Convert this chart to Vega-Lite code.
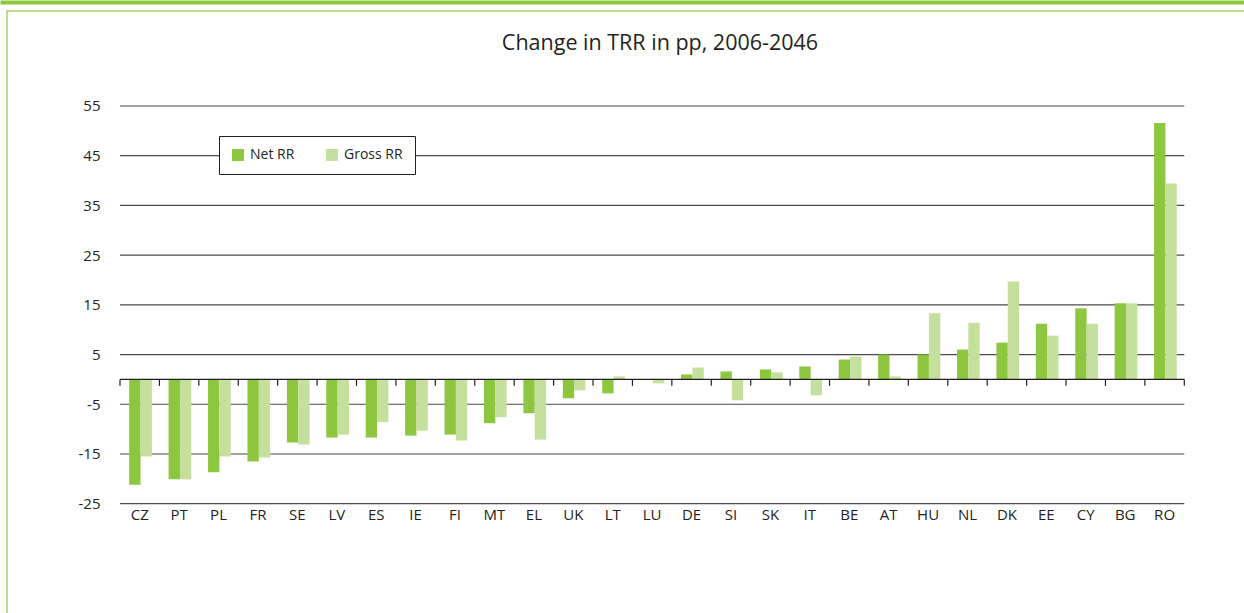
{
  "$schema": "https://vega.github.io/schema/vega-lite/v6.json",
  "width": 1240,
  "height": 620,
  "autosize": {"type": "none"},
  "padding": {"left": 7, "top": 11, "right": 0, "bottom": 0},
  "background": "white",
  "config": {
    "font": "Open Sans",
    "view": {"stroke": "#a3d36c", "strokeWidth": 1.5},
    "axis": {"labelFont": "Open Sans", "labelColor": "#231f20"}
  },
  "title": {
    "text": "Change in TRR in pp, 2006-2046",
    "font": "Open Sans",
    "fontSize": 21.5,
    "fontWeight": "normal",
    "color": "#231f20",
    "anchor": "middle",
    "frame": "group",
    "dx": 33,
    "offset": -52
  },
  "datasets": {
    "rr": [
      {"country": "CZ", "series": "Net RR", "value": -21.2},
      {"country": "CZ", "series": "Gross RR", "value": -15.5},
      {"country": "PT", "series": "Net RR", "value": -20.1},
      {"country": "PT", "series": "Gross RR", "value": -20.1},
      {"country": "PL", "series": "Net RR", "value": -18.7},
      {"country": "PL", "series": "Gross RR", "value": -15.5},
      {"country": "FR", "series": "Net RR", "value": -16.5},
      {"country": "FR", "series": "Gross RR", "value": -15.7},
      {"country": "SE", "series": "Net RR", "value": -12.7},
      {"country": "SE", "series": "Gross RR", "value": -13.1},
      {"country": "LV", "series": "Net RR", "value": -11.7},
      {"country": "LV", "series": "Gross RR", "value": -11.1},
      {"country": "ES", "series": "Net RR", "value": -11.7},
      {"country": "ES", "series": "Gross RR", "value": -8.6},
      {"country": "IE", "series": "Net RR", "value": -11.3},
      {"country": "IE", "series": "Gross RR", "value": -10.3},
      {"country": "FI", "series": "Net RR", "value": -11.1},
      {"country": "FI", "series": "Gross RR", "value": -12.3},
      {"country": "MT", "series": "Net RR", "value": -8.8},
      {"country": "MT", "series": "Gross RR", "value": -7.6},
      {"country": "EL", "series": "Net RR", "value": -6.8},
      {"country": "EL", "series": "Gross RR", "value": -12.1},
      {"country": "UK", "series": "Net RR", "value": -3.8},
      {"country": "UK", "series": "Gross RR", "value": -2.2},
      {"country": "LT", "series": "Net RR", "value": -2.8},
      {"country": "LT", "series": "Gross RR", "value": 0.6},
      {"country": "LU", "series": "Net RR", "value": 0.0},
      {"country": "LU", "series": "Gross RR", "value": -0.8},
      {"country": "DE", "series": "Net RR", "value": 1.0},
      {"country": "DE", "series": "Gross RR", "value": 2.4},
      {"country": "SI", "series": "Net RR", "value": 1.6},
      {"country": "SI", "series": "Gross RR", "value": -4.2},
      {"country": "SK", "series": "Net RR", "value": 2.0},
      {"country": "SK", "series": "Gross RR", "value": 1.4},
      {"country": "IT", "series": "Net RR", "value": 2.6},
      {"country": "IT", "series": "Gross RR", "value": -3.2},
      {"country": "BE", "series": "Net RR", "value": 4.0},
      {"country": "BE", "series": "Gross RR", "value": 4.6},
      {"country": "AT", "series": "Net RR", "value": 5.0},
      {"country": "AT", "series": "Gross RR", "value": 0.6},
      {"country": "HU", "series": "Net RR", "value": 5.0},
      {"country": "HU", "series": "Gross RR", "value": 13.3},
      {"country": "NL", "series": "Net RR", "value": 6.0},
      {"country": "NL", "series": "Gross RR", "value": 11.4},
      {"country": "DK", "series": "Net RR", "value": 7.4},
      {"country": "DK", "series": "Gross RR", "value": 19.7},
      {"country": "EE", "series": "Net RR", "value": 11.2},
      {"country": "EE", "series": "Gross RR", "value": 8.8},
      {"country": "CY", "series": "Net RR", "value": 14.3},
      {"country": "CY", "series": "Gross RR", "value": 11.2},
      {"country": "BG", "series": "Net RR", "value": 15.3},
      {"country": "BG", "series": "Gross RR", "value": 15.3},
      {"country": "RO", "series": "Net RR", "value": 51.6},
      {"country": "RO", "series": "Gross RR", "value": 39.4}
    ],
    "grid": [
      {"v": -25}, {"v": -15}, {"v": -5}, {"v": 5}, {"v": 15},
      {"v": 25}, {"v": 35}, {"v": 45}, {"v": 55}
    ],
    "zero": [{"v": 0}]
  },
  "layer": [
    {
      "data": {"name": "zero"},
      "mark": {"type": "rule", "strokeOpacity": 0},
      "encoding": {
        "x": {
          "datum": 0,
          "type": "quantitative",
          "scale": {"domain": [0, 1], "range": [-7, 1237], "nice": false, "zero": false},
          "axis": {
            "orient": "top",
            "domain": true,
            "domainColor": "#8dc63f",
            "domainWidth": 4,
            "labels": false,
            "ticks": false,
            "grid": false,
            "title": null,
            "offset": 9
          }
        }
      }
    },
    {
      "data": {"name": "grid"},
      "mark": {"type": "rule", "color": "#4a4a4a", "strokeWidth": 1.2},
      "encoding": {
        "x": {
          "datum": "CZ",
          "type": "nominal",
          "bandPosition": 0,
          "scale": {
            "domain": ["CZ","PT","PL","FR","SE","LV","ES","IE","FI","MT","EL","UK","LT","LU","DE","SI","SK","IT","BE","AT","HU","NL","DK","EE","CY","BG","RO"],
            "range": [113, 1177.3],
            "paddingInner": 0,
            "paddingOuter": 0
          },
          "axis": null
        },
        "x2": {"datum": "RO", "bandPosition": 1},
        "y": {
          "field": "v",
          "type": "quantitative",
          "scale": {"domain": [-50.61, 74.11], "nice": false, "zero": false},
          "axis": {
            "orient": "left",
            "offset": -113,
            "values": [-25, -15, -5, 5, 15, 25, 35, 45, 55],
            "domain": false,
            "ticks": false,
            "labelPadding": 20,
            "grid": false,
            "title": null,
            "labelFontSize": 15,
            "labelColor": "#231f20",
            "labelExpr": "replace(datum.label, '\u2212', '-')"
          }
        }
      }
    },
    {
      "data": {"name": "rr"},
      "mark": {"type": "bar"},
      "encoding": {
        "x": {
          "field": "country",
          "type": "nominal",
          "sort": null,
          "scale": {
            "domain": ["CZ","PT","PL","FR","SE","LV","ES","IE","FI","MT","EL","UK","LT","LU","DE","SI","SK","IT","BE","AT","HU","NL","DK","EE","CY","BG","RO"],
            "range": [113, 1177.3],
            "paddingInner": 0,
            "paddingOuter": 0
          },
          "axis": {
            "orient": "bottom",
            "domain": false,
            "ticks": false,
            "labelPadding": 0,
            "offset": -124,
            "title": null,
            "labelFontSize": 15,
            "labelAngle": 0,
            "grid": false,
            "labelColor": "#231f20"
          }
        },
        "xOffset": {
          "field": "series",
          "type": "nominal",
          "scale": {"domain": ["Net RR", "Gross RR"], "paddingInner": 0, "paddingOuter": 0.737, "align": 0.55}
        },
        "y": {
          "field": "value",
          "type": "quantitative",
          "scale": {"domain": [-50.61, 74.11], "nice": false, "zero": false},
          "axis": {
            "orient": "left",
            "offset": -113,
            "values": [-25, -15, -5, 5, 15, 25, 35, 45, 55],
            "domain": false,
            "ticks": false,
            "labelPadding": 20,
            "grid": false,
            "title": null,
            "labelFontSize": 15,
            "labelColor": "#231f20",
            "labelExpr": "replace(datum.label, '\u2212', '-')"
          }
        },
        "color": {
          "field": "series",
          "type": "nominal",
          "scale": {"domain": ["Net RR", "Gross RR"], "range": ["#8dc63f", "#c5e09d"]},
          "legend": {
            "title": null,
            "orient": "none",
            "legendX": 212,
            "legendY": 125,
            "direction": "horizontal",
            "symbolType": "square",
            "symbolSize": 144,
            "symbolStrokeWidth": 0,
            "symbolOpacity": 1,
            "labelFont": "Open Sans",
            "labelFontSize": 14,
            "labelColor": "#231f20",
            "labelOffset": 5,
            "fillColor": "white",
            "strokeColor": "#231f20",
            "padding": 12,
            "columnPadding": 30
          }
        }
      }
    },
    {
      "data": {"name": "zero"},
      "mark": {"type": "rule", "color": "#231f20", "strokeWidth": 1.4},
      "encoding": {
        "x": {
          "datum": "CZ",
          "type": "nominal",
          "bandPosition": 0,
          "scale": {
            "domain": ["CZ","PT","PL","FR","SE","LV","ES","IE","FI","MT","EL","UK","LT","LU","DE","SI","SK","IT","BE","AT","HU","NL","DK","EE","CY","BG","RO"],
            "range": [113, 1177.3],
            "paddingInner": 0,
            "paddingOuter": 0
          },
          "axis": null
        },
        "x2": {"datum": "RO", "bandPosition": 1},
        "y": {
          "field": "v",
          "type": "quantitative",
          "scale": {"domain": [-50.61, 74.11], "nice": false, "zero": false},
          "axis": {
            "orient": "left",
            "offset": -113,
            "values": [-25, -15, -5, 5, 15, 25, 35, 45, 55],
            "domain": false,
            "ticks": false,
            "labelPadding": 20,
            "grid": false,
            "title": null,
            "labelFontSize": 15,
            "labelColor": "#231f20",
            "labelExpr": "replace(datum.label, '\u2212', '-')"
          }
        }
      }
    },
    {
      "data": {"name": "rr"},
      "transform": [{"filter": "datum.series === 'Net RR'"}],
      "mark": {"type": "rule", "color": "#231f20", "strokeWidth": 1.2},
      "encoding": {
        "x": {
          "field": "country",
          "type": "nominal",
          "bandPosition": 0,
          "scale": {
            "domain": ["CZ","PT","PL","FR","SE","LV","ES","IE","FI","MT","EL","UK","LT","LU","DE","SI","SK","IT","BE","AT","HU","NL","DK","EE","CY","BG","RO"],
            "range": [113, 1177.3],
            "paddingInner": 0,
            "paddingOuter": 0
          },
          "axis": null
        },
        "y": {
          "datum": 0,
          "type": "quantitative",
          "scale": {"domain": [-50.61, 74.11], "nice": false, "zero": false},
          "axis": {
            "orient": "left",
            "offset": -113,
            "values": [-25, -15, -5, 5, 15, 25, 35, 45, 55],
            "domain": false,
            "ticks": false,
            "labelPadding": 20,
            "grid": false,
            "title": null,
            "labelFontSize": 15,
            "labelColor": "#231f20",
            "labelExpr": "replace(datum.label, '\u2212', '-')"
          }
        },
        "y2": {"datum": -1.3}
      }
    },
    {
      "data": {"name": "rr"},
      "transform": [{"filter": "datum.series === 'Net RR' && datum.country === 'RO'"}],
      "mark": {"type": "rule", "color": "#231f20", "strokeWidth": 1.2},
      "encoding": {
        "x": {
          "field": "country",
          "type": "nominal",
          "bandPosition": 1,
          "scale": {
            "domain": ["CZ","PT","PL","FR","SE","LV","ES","IE","FI","MT","EL","UK","LT","LU","DE","SI","SK","IT","BE","AT","HU","NL","DK","EE","CY","BG","RO"],
            "range": [113, 1177.3],
            "paddingInner": 0,
            "paddingOuter": 0
          },
          "axis": null
        },
        "y": {
          "datum": 0,
          "type": "quantitative",
          "scale": {"domain": [-50.61, 74.11], "nice": false, "zero": false},
          "axis": {
            "orient": "left",
            "offset": -113,
            "values": [-25, -15, -5, 5, 15, 25, 35, 45, 55],
            "domain": false,
            "ticks": false,
            "labelPadding": 20,
            "grid": false,
            "title": null,
            "labelFontSize": 15,
            "labelColor": "#231f20",
            "labelExpr": "replace(datum.label, '\u2212', '-')"
          }
        },
        "y2": {"datum": -1.3}
      }
    }
  ],
  "resolve": {"scale": {"x": "independent"}, "axis": {"x": "independent"}}
}
